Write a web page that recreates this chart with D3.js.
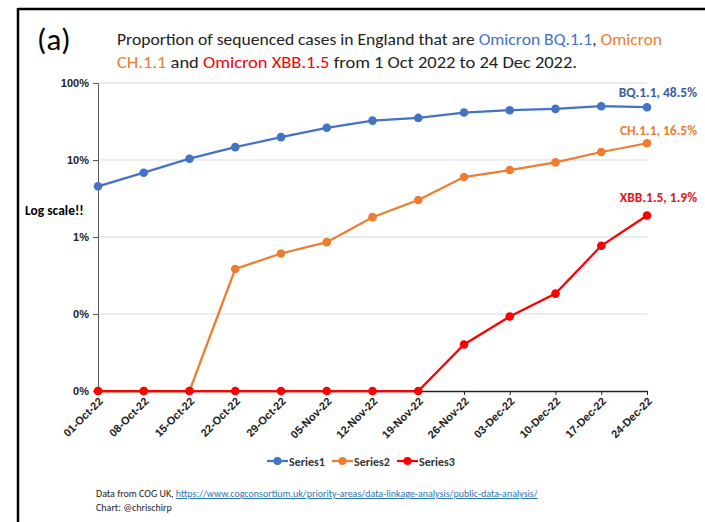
<!DOCTYPE html>
<html>
<head>
<meta charset="utf-8">
<script src="https://cdn.jsdelivr.net/npm/d3@7"></script>
<style>
  html, body { margin: 0; padding: 0; background: #fff; }
  svg { display: block; font-family: Carlito, Lato, "Liberation Sans", sans-serif; }
</style>
</head>
<body>
<svg id="chart" width="705" height="522"></svg>
<script>
// Weekly proportion of sequenced cases (percent), England
const dates = ["01-Oct-22","08-Oct-22","15-Oct-22","22-Oct-22","29-Oct-22","05-Nov-22","12-Nov-22",
               "19-Nov-22","26-Nov-22","03-Dec-22","10-Dec-22","17-Dec-22","24-Dec-22"];
const bq11  = [4.55, 6.84, 10.4, 14.7, 19.8, 26.2, 32.5, 35.2, 41.3, 44.3, 46.1, 49.9, 48.5];
const ch11  = [0, 0, 0, 0.384, 0.611, 0.857, 1.81, 3.03, 6.01, 7.40, 9.31, 12.7, 16.5];
const xbb15 = [0, 0, 0, 0, 0, 0, 0, 0, 0.0402, 0.0927, 0.184, 0.769, 1.9];
const seriesNames = ["Series1", "Series2", "Series3"];
const variantNames = ["BQ.1.1", "CH.1.1", "XBB.1.5"];
const yTicks = [0.01, 0.1, 1, 10, 100];
const yTickLabels = ["0%", "0%", "1%", "10%", "100%"];

const colors = ["#4472C4", "#ED7D31", "#FF0000"];
const labelColors = ["#3B5C9E", "#ED7D31", "#E0161B"];
const series = [bq11, ch11, xbb15];

const svg = d3.select("#chart");

// frame lines
svg.append("line").attr("x1", 18).attr("x2", 705).attr("y1", 9).attr("y2", 9)
  .attr("stroke", "#000").attr("stroke-width", 2.5);
svg.append("line").attr("x1", 18).attr("x2", 18).attr("y1", 8).attr("y2", 522)
  .attr("stroke", "#000").attr("stroke-width", 2.5);

// panel letter
svg.append("text").attr("x", 37).attr("y", 50).attr("font-size", 31)
  .attr("fill", "#000").text("(a)");

// title with coloured variant names
const t1 = svg.append("text").attr("x", 117).attr("y", 45).attr("font-size", 16).attr("fill", "#222")
  .attr("textLength", 545).attr("lengthAdjust", "spacingAndGlyphs");
t1.append("tspan").text("Proportion of sequenced cases in England that are ");
t1.append("tspan").attr("fill", colors[0]).text("Omicron BQ.1.1");
t1.append("tspan").text(", ");
t1.append("tspan").attr("fill", colors[1]).text("Omicron");
const t2 = svg.append("text").attr("x", 117).attr("y", 68).attr("font-size", 16).attr("fill", "#222")
  .attr("textLength", 460).attr("lengthAdjust", "spacingAndGlyphs");
t2.append("tspan").attr("fill", colors[1]).text("CH.1.1");
t2.append("tspan").text(" and ");
t2.append("tspan").attr("fill", colors[2]).text("Omicron XBB.1.5");
t2.append("tspan").text(" from 1 Oct 2022 to 24 Dec 2022.");

// scales
const x = d3.scalePoint().domain(dates).range([98, 647]);
const y = d3.scaleLog().domain([0.01, 100]).range([391, 83]);
const yv = v => y(Math.max(v, 0.01));

// gridlines
svg.append("g").selectAll("line").data(yTicks.slice(1)).join("line")
  .attr("x1", 98).attr("x2", 647)
  .attr("y1", d => y(d)).attr("y2", d => y(d))
  .attr("stroke", "#D9D9D9").attr("stroke-width", 1);

// y axis
const yAxis = d3.axisLeft(y).tickValues(yTicks).tickSize(5)
  .tickFormat((d, i) => yTickLabels[i]).tickPadding(4);
const gy = svg.append("g").attr("transform", "translate(98,0)").call(yAxis);
gy.select(".domain").attr("stroke", "#595959");
gy.selectAll(".tick line").attr("stroke", "#595959");
gy.selectAll("text").attr("font-size", 11).attr("font-weight", "bold")
  .attr("fill", "#222").attr("font-family", "inherit");

// x axis
const xAxis = d3.axisBottom(x).tickSize(4).tickSizeOuter(0);
const gx = svg.append("g").attr("transform", "translate(0,391)").call(xAxis);
gx.select(".domain").attr("stroke", "#222").attr("stroke-width", 1.3);
gx.selectAll(".tick line").attr("stroke", "#222");
gx.selectAll("text")
  .attr("font-size", 11).attr("font-weight", "bold").attr("fill", "#222")
  .attr("font-family", "inherit")
  .attr("text-anchor", "end")
  .attr("dy", null).attr("y", 0)
  .attr("transform", "translate(5,11) rotate(-45)");

// "Log scale!!" note
svg.append("text").attr("x", 25).attr("y", 215).attr("font-size", 13.5)
  .attr("font-weight", "bold").attr("fill", "#000").text("Log scale!!");

// lines and markers
const line = d3.line().x((d, i) => x(dates[i])).y(d => yv(d));
series.forEach((s, k) => {
  svg.append("path").datum(s).attr("d", line)
    .attr("fill", "none").attr("stroke", colors[k]).attr("stroke-width", 2.25);
  svg.append("g").selectAll("circle").data(s).join("circle")
    .attr("cx", (d, i) => x(dates[i])).attr("cy", d => yv(d)).attr("r", 4.3)
    .attr("fill", colors[k]);
});

// end-of-line value labels
const last = dates.length - 1;
const labelOffsets = [-10, -8, -14];
series.forEach((s, k) => {
  svg.append("text")
    .attr("x", 697).attr("y", yv(s[last]) + labelOffsets[k])
    .attr("text-anchor", "end").attr("font-size", 13.5).attr("font-weight", "bold")
    .attr("fill", labelColors[k])
    .text(`${variantNames[k]}, ${s[last]}%`);
});

// legend
const legend = svg.append("g").attr("transform", "translate(267,461)");
const legendX = [0, 72, 130];
seriesNames.forEach((n, k) => {
  const g = legend.append("g").attr("transform", `translate(${k * 65},0)`);
  g.append("line").attr("x1", 0).attr("x2", 21).attr("stroke", colors[k]).attr("stroke-width", 2.25);
  g.append("circle").attr("cx", 10.5).attr("r", 4).attr("fill", colors[k]);
  g.append("text").attr("x", 22).attr("y", 4.5).attr("font-size", 12)
    .attr("font-weight", "bold").attr("fill", "#333").text(n);
});

// source note
const src = svg.append("text").attr("x", 96).attr("y", 497).attr("font-size", 10).attr("fill", "#222");
src.append("tspan").text("Data from COG UK, ");
src.append("tspan").attr("fill", "#2E75B6").attr("text-decoration", "underline")
  .text("https://www.cogconsortium.uk/priority-areas/data-linkage-analysis/public-data-analysis/");
svg.append("text").attr("x", 96).attr("y", 511).attr("font-size", 10).attr("fill", "#222")
  .text("Chart: @chrischirp");
</script>
</body>
</html>
